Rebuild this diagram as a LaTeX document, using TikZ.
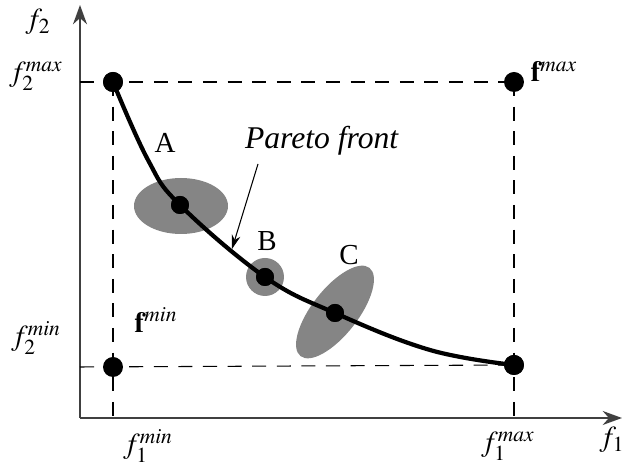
\documentclass[tikz,border=0pt]{standalone}
\usepackage{mathptmx}
\usepackage{fontspec}
\setmainfont{Liberation Serif}
\usetikzlibrary{arrows.meta}

\tikzset{
  dot/.style={circle, fill=black, inner sep=0pt, minimum size=0.36cm},
  bigdot/.style={dot, minimum size=0.4cm},
  guide/.style={dashed, dash pattern=on 8pt off 6pt, line width=0.6pt},
  axis/.style={line width=0.9pt, draw=black!75, -{Stealth[length=11pt,width=8pt]}},
  blob/.style={fill=black!48},
  lbl/.style={inner sep=1pt, font=\fontsize{16.5}{20}\selectfont}
}

\begin{document}
\begin{tikzpicture}[x=0.02cm, y=-0.02cm]
    \useasboundingbox (0,0) rectangle (627,472);

    % Axes
    \coordinate (origin) at (80,418);
    \coordinate (xtip) at (622,418);
    \coordinate (ytip) at (80,5);
    \draw[axis] (origin) -- (xtip);
    \draw[axis] (origin) -- (ytip);

    % Corner points
    \node[bigdot] (fa) at (113,82) {};
    \node[bigdot] (fmax) at (514,82) {};
    \node[bigdot] (fmin) at (113,367) {};
    \node[bigdot] (fe) at (514,365) {};
    \coordinate (xmin) at (113,418);
    \coordinate (xmax) at (514,418);
    \coordinate (ymax) at (80,82);
    \coordinate (ymin) at (80,367);

    % Dashed guides
    \draw[guide] (ymax) -- (fmax.center);
    \draw[guide] (ymin) -- (fe.center);
    \draw[guide] (fa.center) -- (xmin);
    \draw[guide] (fmax.center) -- (xmax);

    % Gray regions
    \coordinate (ca) at (181,206);
    \coordinate (cb) at (265,277);
    \coordinate (cc) at (335,312);
    \fill[blob] (ca) ellipse [x radius=0.94cm, y radius=0.56cm];
    \fill[blob] (cb) circle [radius=0.38cm];
    \fill[blob, rotate around={52:(cc)}] (cc) ellipse [x radius=1.12cm, y radius=0.46cm];

    % Pareto front
    \node[dot] (pa) at (180,205) {};
    \node[dot] (pb) at (265,277) {};
    \node[dot] (pc) at (335,313) {};
    \draw[line width=2.4pt, line cap=round] plot[smooth, tension=0.65]
        coordinates {(fa.center) (148,160) (pa.center) (pb.center) (pc.center) (430,350) (fe.center)};
    \node[dot] at (pa) {};
    \node[dot] at (pb) {};
    \node[dot] at (pc) {};
    \node[bigdot] at (fa) {};
    \node[bigdot] at (fe) {};

    % Labels
    \node[lbl] (la) at (165,143) {A};
    \node[lbl] (lb) at (267,241) {B};
    \node[lbl] (lc) at (349,255) {C};
    \node[lbl, font=\fontsize{18}{21}\selectfont] (pareto) at (322,141) {\textit{Pareto front}};
    \coordinate (ptail) at (258,164);
    \coordinate (phead) at (232,249);
    \draw[line width=0.6pt, -{Stealth[length=8pt,width=5pt]}] (ptail) -- (phead);

    \node[lbl] (lf2) at (38,22) {$f_2$};
    \node[lbl] (lf2max) at (36,76) {$f_2^{max}$};
    \node[lbl] (lf2min) at (36,338) {$f_2^{min}$};
    \node[lbl] (lf1min) at (148,446) {$f_1^{min}$};
    \node[lbl] (lf1max) at (508,446) {$f_1^{max}$};
    \node[lbl] (lf1) at (612,440) {$f_1$};
    \node[lbl] (lfmin) at (156,320) {$\mathbf{f}^{min}$};
    \node[lbl] (lfmax) at (554,72) {$\mathbf{f}^{max}$};
\end{tikzpicture}
\end{document}
